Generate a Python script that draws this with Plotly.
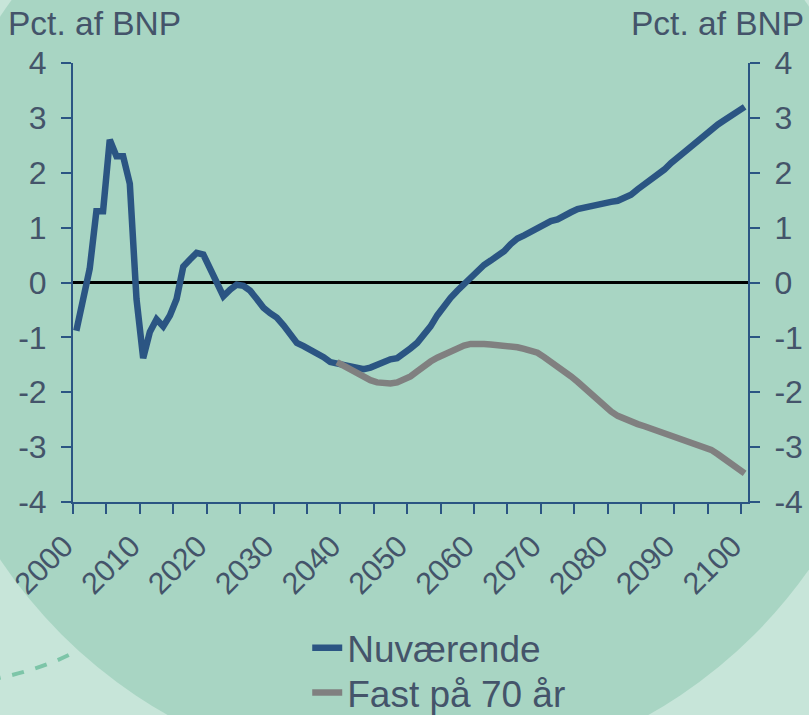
import plotly.graph_objects as go

# data
years = list(range(2000, 2101))
nuvaerende = [
    -0.88, -0.30, 0.25, 1.30, 1.30, 2.60, 2.30, 2.30, 1.80, -0.30,
    -1.38, -0.90, -0.67, -0.80, -0.60, -0.30, 0.29, 0.42, 0.54, 0.51,
    0.25, 0.00, -0.25, -0.13, -0.04, -0.06, -0.15, -0.30, -0.46, -0.56,
    -0.64, -0.78, -0.92, -1.10, -1.16, -1.22, -1.28, -1.36, -1.45, -1.47,
    -1.50, -1.53, -1.56, -1.58, -1.55, -1.50, -1.42, -1.40, -1.38, -1.30,
    -1.20, -1.10, -0.97, -0.80, -0.60, -0.42, -0.28, -0.15, -0.03, 0.10,
    0.20, 0.32, 0.40, 0.47, 0.57, 0.70, 0.80, 0.86, 0.92, 1.00,
    1.07, 1.12, 1.15, 1.20, 1.28, 1.34, 1.37, 1.38, 1.41, 1.45,
    1.47, 1.49, 1.53, 1.60, 1.70, 1.79, 1.87, 1.96, 2.06, 2.18,
    2.30, 2.38, 2.48, 2.58, 2.70, 2.80, 2.88, 2.96, 3.04, 3.13,
    3.20,
]
fast_years = list(range(2039, 2101))
fast_70 = [
    -1.45,
    -1.52, -1.60, -1.67, -1.74, -1.78, -1.82, -1.84, -1.84, -1.82, -1.78,
    -1.71, -1.62, -1.52, -1.44, -1.37, -1.31, -1.25, -1.19, -1.15, -1.12,
    -1.11, -1.12, -1.13, -1.14, -1.15, -1.16, -1.18, -1.21, -1.24, -1.28,
    -1.36, -1.44, -1.52, -1.61, -1.71, -1.81, -1.92, -2.03, -2.13, -2.24,
    -2.35, -2.43, -2.49, -2.54, -2.58, -2.62, -2.66, -2.70, -2.74, -2.78,
    -2.82, -2.86, -2.90, -2.94, -2.98, -3.05, -3.13, -3.22, -3.31, -3.40,
    -3.48,
]
year_labels = list(range(2000, 2101, 10))
y_ticks = list(range(-4, 5))
y_ticktext = [str(v) for v in y_ticks]  # plain hyphen, like the original

TXT = "#44546a"
AX = "#2b5583"
FONT = "Liberation Sans, Arial, sans-serif"

fig = go.Figure()
fig.add_trace(go.Scatter(x=years, y=nuvaerende, name="Nuværende", mode="lines",
                         line=dict(color="#2b5583", width=6.5), legend="legend"))
fig.add_trace(go.Scatter(x=fast_years, y=fast_70, name="Fast på 70 år", mode="lines",
                         line=dict(color="#808080", width=6.5), legend="legend2"))
# invisible trace just to get the right-hand axis
fig.add_trace(go.Scatter(x=[years[0]], y=[0], yaxis="y2", showlegend=False,
                         mode="markers", marker=dict(opacity=0), hoverinfo="skip"))

yax = dict(range=[-4, 4], tickvals=y_ticks, ticktext=y_ticktext, ticks="outside",
           ticklen=10, tickwidth=2, tickcolor=AX, showline=True, linecolor=AX,
           linewidth=2, showgrid=False, ticklabelstandoff=8,
           tickfont=dict(size=32, color=TXT, family=FONT))
leg = dict(x=0.347, xanchor="left", yanchor="middle", bgcolor="rgba(0,0,0,0)",
           font=dict(size=37, color=TXT, family=FONT))

fig.update_layout(
    width=809, height=715,
    margin=dict(l=73, r=61, t=63, b=213, autoexpand=False),
    paper_bgcolor="#c7e5d9",
    plot_bgcolor="rgba(0,0,0,0)",
    font=dict(family=FONT, color=TXT),
    xaxis=dict(range=[1999.5, 2100.5], tickvals=year_labels, tickangle=-45,
               ticks="", showline=True, linecolor=AX, linewidth=2, showgrid=False,
               zeroline=False, tickfont=dict(size=30.5, color=TXT, family=FONT),
               ticklabelstandoff=12, ticklabelshift=-12,
               minor=dict(tick0=1999.5, dtick=5, ticks="outside", ticklen=10,
                          tickwidth=2, tickcolor=AX, showgrid=False)),
    yaxis=dict(**yax, zeroline=True, zerolinecolor="black", zerolinewidth=2.5),
    yaxis2=dict(**yax, overlaying="y", side="right", zeroline=False),
    showlegend=True,
    legend=dict(**leg, y=-0.333),
    legend2=dict(**leg, y=-0.435),
    shapes=[
        # big circle in the background
        dict(type="circle", xref="paper", yref="paper", layer="below",
             x0=-0.2296, x1=1.2222, y0=-0.6287, y1=1.6036,
             fillcolor="#a8d5c3", line=dict(width=0)),
        # dashed arc bottom-left
        dict(type="path", xref="paper", yref="paper", layer="below",
             path="M -0.125,-0.405 Q -0.05,-0.385 0.006,-0.339",
             line=dict(color="#7dc5a8", width=4, dash="dash")),
    ],
    annotations=[
        dict(text="Pct. af BNP", xref="paper", yref="paper", x=-0.099, y=1.09,
             xanchor="left", yanchor="middle", showarrow=False,
             font=dict(size=33.5, color=TXT, family=FONT)),
        dict(text="Pct. af BNP", xref="paper", yref="paper", x=1.086, y=1.09,
             xanchor="right", yanchor="middle", showarrow=False,
             font=dict(size=33.5, color=TXT, family=FONT)),
    ],
)

fig.write_html("out.html", config={"displayModeBar": False},
               post_script="document.body.style.margin='0';")
